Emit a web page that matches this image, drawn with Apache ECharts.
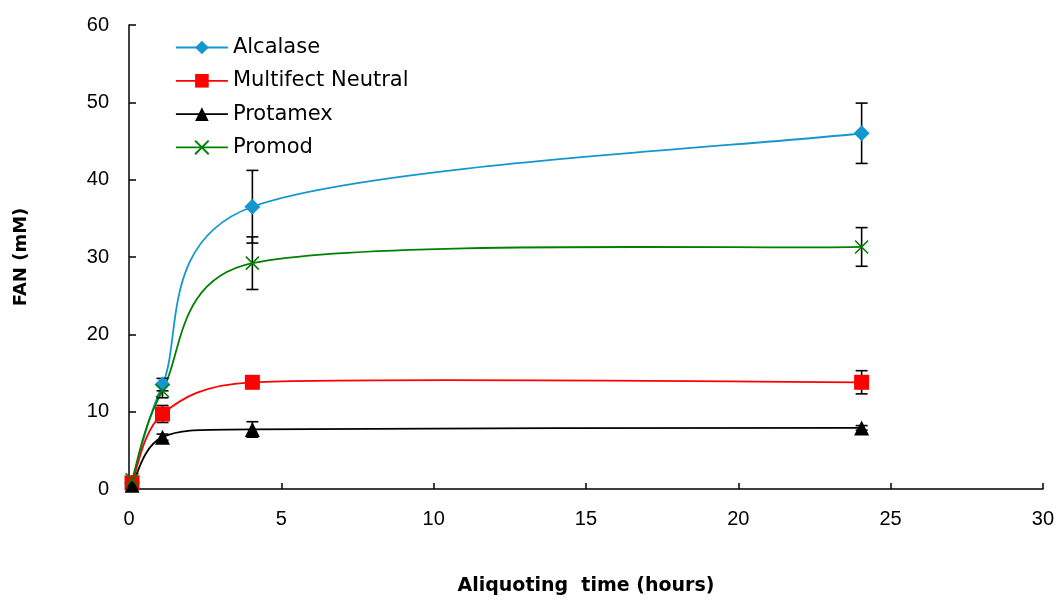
<!DOCTYPE html>
<html>
<head>
<meta charset="utf-8">
<script src="https://cdn.jsdelivr.net/npm/echarts@6/dist/echarts.min.js"></script>
<style>html,body{margin:0;padding:0;background:#fff}#c{width:1057px;height:601px}</style>
</head>
<body>
<div id="c"></div>
<script>
const hours = [0.1, 1.1, 4.05, 24.05];
const seriesNames = ['Alcalase', 'Multifect Neutral', 'Protamex', 'Promod'];
const alcalase = [0.8, 13.5, 36.5, 46.0];
const multifect = [0.8, 9.7, 13.8, 13.8];
const protamex = [0.5, 6.7, 7.7, 7.9];
const promod = [1.2, 12.7, 29.2, 31.3];
const alcalaseErr = [0, 0.8, 4.7, 3.9];
const multifectErr = [0, 1.1, 0.4, 1.5];
const protamexErr = [0, 0.4, 1.0, 0.3];
const promodErr = [0, 0.9, 3.4, 2.5];
const xTicks = [0, 5, 10, 15, 20, 25, 30];
const yTicks = [0, 10, 20, 30, 40, 50, 60];

const values = [alcalase, multifect, protamex, promod];
const errs = [alcalaseErr, multifectErr, protamexErr, promodErr];
const colors = ['#1497CF', '#FF0000', '#000000', '#008000'];
const symbols = ['diamond', 'rect', 'triangle', 'path://M0,0L10,10M10,0L0,10'];
const sizes = [16, 15, 15, 13];

// Excel-style smoothed segment (Bezier) computed in screen space
function ctrlPoints(P, i) {
  const p0 = P[Math.max(i - 1, 0)], p1 = P[i], p2 = P[i + 1], p3 = P[Math.min(i + 2, P.length - 1)];
  const dist = (a, b) => Math.hypot(a[0] - b[0], a[1] - b[1]);
  const d12 = dist(p1, p2), d02 = dist(p0, p2), d13 = dist(p1, p3);
  const f = d02 > 0 ? Math.min(d02 / 6, d12 / 2) / d02 : 0;
  const g = d13 > 0 ? Math.min(d13 / 6, d12 / 2) / d13 : 0;
  return {
    x1: p1[0], y1: p1[1], x2: p2[0], y2: p2[1],
    cpx1: p1[0] + (p2[0] - p0[0]) * f, cpy1: p1[1] + (p2[1] - p0[1]) * f,
    cpx2: p2[0] - (p3[0] - p1[0]) * g, cpy2: p2[1] - (p3[1] - p1[1]) * g
  };
}

const chart = echarts.init(document.getElementById('c'));
const series = [];
values.forEach((v, i) => {
  series.push({
    type: 'custom',
    data: hours.slice(0, -1).map((h, j) => [h, v[j]]),
    renderItem: function (params, api) {
      const P = hours.map((h, k) => api.coord([h, v[k]]));
      return {
        type: 'bezierCurve',
        shape: ctrlPoints(P, params.dataIndex),
        style: { stroke: colors[i], fill: null, lineWidth: 1.8 }
      };
    },
    silent: true,
    z: 1
  });
});
values.forEach((v, i) => {
  series.push({
    name: seriesNames[i],
    type: 'line',
    data: hours.map((h, j) => [h, v[j]]),
    symbol: symbols[i],
    symbolSize: sizes[i],
    showAllSymbol: true,
    lineStyle: { color: colors[i], width: 1.8, opacity: 0 },
    itemStyle: i === 3 ? { color: 'rgba(0,0,0,0)', borderColor: colors[i], borderWidth: 1.6 } : { color: colors[i], borderWidth: 0 },
    emphasis: { disabled: true },
    z: 3
  });
});
values.forEach((v, i) => {
  series.push({
    type: 'custom',
    data: hours.map((h, j) => [h, v[j] - errs[i][j], v[j] + errs[i][j]]).filter((d, j) => errs[i][j] > 0),
    renderItem: function (params, api) {
      const lo = api.coord([api.value(0), api.value(1)]);
      const hi = api.coord([api.value(0), api.value(2)]);
      const w = 6;
      const st = { stroke: '#000', lineWidth: 1.6 };
      return {
        type: 'group',
        children: [
          { type: 'line', shape: { x1: lo[0], y1: lo[1], x2: hi[0], y2: hi[1] }, style: st },
          { type: 'line', shape: { x1: lo[0] - w, y1: lo[1], x2: lo[0] + w, y2: lo[1] }, style: st },
          { type: 'line', shape: { x1: hi[0] - w, y1: hi[1], x2: hi[0] + w, y2: hi[1] }, style: st }
        ]
      };
    },
    z: 2,
    silent: true
  });
});

chart.setOption({
  animation: false,
  grid: { left: 129, right: 14, top: 25, bottom: 109 },
  legend: {
    data: seriesNames,
    orient: 'vertical',
    left: 170,
    top: 32,
    itemWidth: 52,
    itemHeight: 17,
    itemGap: 12.3,
    lineStyle: { opacity: 1, width: 1.8 },
    textStyle: { fontFamily: 'DejaVu Sans', fontSize: 21, color: '#000', lineHeight: 21 },
    selectedMode: false
  },
  xAxis: {
    type: 'value',
    min: 0, max: 30, interval: 5,
    name: 'Aliquoting  time (hours)',
    nameLocation: 'middle',
    nameGap: 88,
    nameTextStyle: { fontFamily: 'DejaVu Sans', fontSize: 19, fontWeight: 'bold', color: '#000' },
    axisLine: { lineStyle: { color: '#000', width: 1.5 } },
    axisTick: { inside: true, length: 6, lineStyle: { color: '#000', width: 1.5 } },
    axisLabel: { fontFamily: 'Liberation Sans, Arial', fontSize: 20, color: '#000', margin: 20, formatter: v => xTicks.includes(v) ? String(v) : '' },
    splitLine: { show: false }
  },
  yAxis: {
    type: 'value',
    min: 0, max: 60, interval: 10,
    name: 'FAN (mM)',
    nameLocation: 'middle',
    nameGap: 99,
    nameRotate: 90,
    nameTextStyle: { fontFamily: 'DejaVu Sans', fontSize: 18, fontWeight: 'bold', color: '#000' },
    axisLine: { show: true, lineStyle: { color: '#000', width: 1.5 } },
    axisTick: { show: true, inside: true, length: 7, lineStyle: { color: '#000', width: 1.5 } },
    axisLabel: { fontFamily: 'Liberation Sans, Arial', fontSize: 20, color: '#000', margin: 20, formatter: v => yTicks.includes(v) ? String(v) : '' },
    splitLine: { show: false }
  },
  series: series
});
</script>
</body>
</html>
